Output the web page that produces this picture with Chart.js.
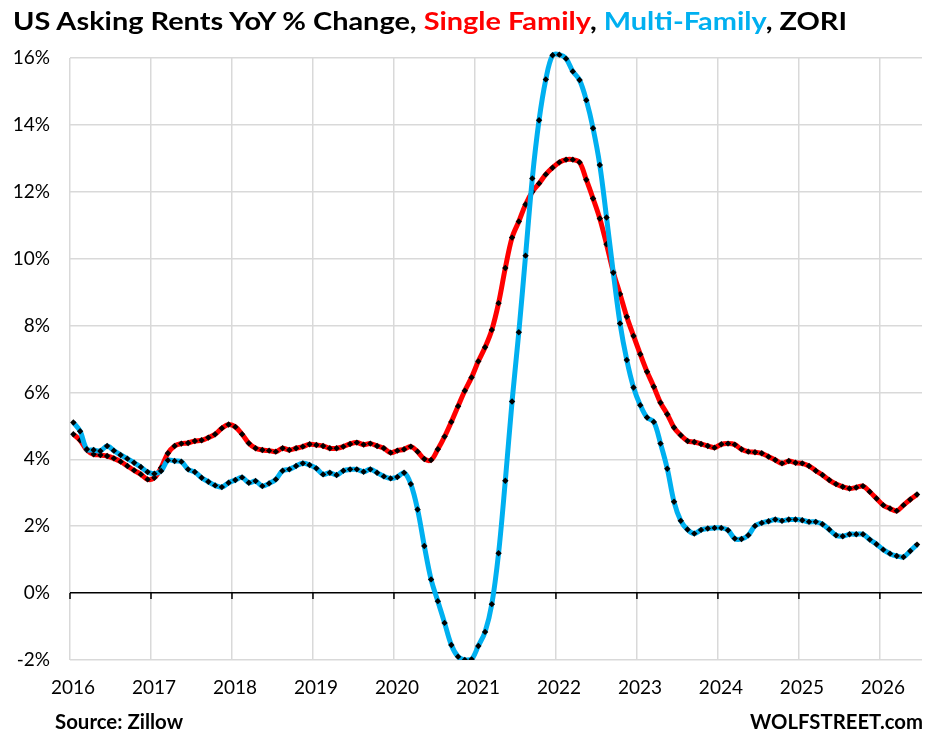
<!DOCTYPE html>
<html>
<head>
<meta charset="utf-8">
<script src="https://cdn.jsdelivr.net/npm/chart.js@4.4.1/dist/chart.umd.min.js"></script>
<style>
  html, body { margin: 0; padding: 0; background: #fff; }
  #wrap { position: relative; width: 930px; height: 736px; overflow: hidden; font-family: Lato, "Open Sans", sans-serif; }
  #chart { position: absolute; left: 0; top: 0; }
  .txt { position: absolute; white-space: nowrap; font-weight: bold; color: #000; line-height: 1; transform-origin: 0 0; }
  #title { left: 13px; top: 8px; font-size: 25px; }
  #source { left: 55px; top: 711px; font-size: 20px; }
  #brand { left: 750px; top: 711px; font-size: 20px; }
  .sf { color: #ff0000; }
  .mf { color: #00b0f0; }
</style>
</head>
<body>
<div id="wrap">
  <canvas id="chart" width="930" height="736"></canvas>
  <div id="title" class="txt">US Asking Rents YoY % Change, <span class="sf">Single Family</span>, <span class="mf">Multi-Family</span>, ZORI</div>
  <div id="source" class="txt">Source: Zillow</div>
  <div id="brand" class="txt">WOLFSTREET.com</div>
</div>
<script>
// Monate Jan 2016 .. Jun 2026
const months = [];
for (let y = 2016; y <= 2026; y++) {
  for (let m = 1; m <= 12; m++) {
    if (y === 2026 && m > 6) break;
    months.push(y + "-" + String(m).padStart(2, "0"));
  }
}

const yearTicks = [2016, 2017, 2018, 2019, 2020, 2021, 2022, 2023, 2024, 2025, 2026];

// YoY % change, single family (red)
const singleFamily = [
  4.75, 4.57, 4.28, 4.15, 4.13, 4.10, 4.03, 3.93, 3.80, 3.67, 3.55, 3.40,
  3.45, 3.75, 4.18, 4.40, 4.47, 4.49, 4.55, 4.57, 4.65, 4.75, 4.93, 5.04,
  4.97, 4.75, 4.48, 4.33, 4.28, 4.26, 4.23, 4.33, 4.28, 4.33, 4.38, 4.45,
  4.43, 4.40, 4.33, 4.33, 4.38, 4.46, 4.50, 4.44, 4.47, 4.40, 4.33, 4.20,
  4.26, 4.30, 4.38, 4.23, 4.01, 3.98, 4.30, 4.68, 5.12, 5.59, 6.05, 6.45,
  6.93, 7.35, 7.87, 8.67, 9.72, 10.63, 11.11, 11.62, 12.00, 12.25, 12.52, 12.72,
  12.88, 12.96, 12.96, 12.88, 12.36, 11.80, 11.20, 10.43, 9.60, 8.94, 8.26, 7.69,
  7.14, 6.62, 6.17, 5.69, 5.35, 4.95, 4.72, 4.55, 4.52, 4.46, 4.40, 4.35,
  4.45, 4.47, 4.44, 4.30, 4.23, 4.21, 4.18, 4.08, 3.98, 3.88, 3.95, 3.90,
  3.88, 3.80, 3.66, 3.53, 3.38, 3.26, 3.18, 3.13, 3.16, 3.20, 3.03, 2.83,
  2.63, 2.53, 2.46, 2.63, 2.80, 2.95
];

// YoY % change, multi-family (blue)
const multiFamily = [
  5.10, 4.84, 4.30, 4.28, 4.25, 4.40, 4.26, 4.13, 4.02, 3.90, 3.77, 3.62,
  3.57, 3.65, 3.97, 3.95, 3.93, 3.70, 3.62, 3.45, 3.33, 3.22, 3.17, 3.30,
  3.38, 3.46, 3.30, 3.35, 3.20, 3.28, 3.40, 3.66, 3.70, 3.80, 3.88, 3.83,
  3.73, 3.55, 3.60, 3.53, 3.66, 3.70, 3.70, 3.63, 3.70, 3.60, 3.49, 3.43,
  3.47, 3.60, 3.26, 2.50, 1.41, 0.41, -0.24, -0.89, -1.55, -1.90, -2.00, -1.98,
  -1.58, -1.16, -0.33, 1.19, 3.36, 5.73, 7.80, 10.09, 12.40, 14.14, 15.36, 16.08,
  16.10, 15.98, 15.60, 15.34, 14.74, 13.90, 12.80, 11.23, 9.58, 8.06, 6.97, 6.15,
  5.62, 5.25, 5.12, 4.47, 3.72, 2.73, 2.16, 1.90, 1.78, 1.89, 1.93, 1.95,
  1.95, 1.88, 1.63, 1.62, 1.73, 2.01, 2.10, 2.15, 2.20, 2.16, 2.20, 2.20,
  2.18, 2.13, 2.13, 2.06, 1.90, 1.73, 1.70, 1.76, 1.76, 1.76, 1.60, 1.46,
  1.30, 1.18, 1.11, 1.08, 1.26, 1.45
];

// Monat in der Mitte des Monats auf die Jahresachse legen
const toX = (s) => { const [y, m] = s.split("-").map(Number); return y + (m - 0.5) / 12; };
const points = (vals) => months.map((d, i) => ({ x: toX(d), y: vals[i] }));

const tickFont = { family: "Lato, 'Open Sans', sans-serif", size: 19 };
const GRID = "#d9d9d9";

// kleine Striche unter der Nulllinie, wie in Excel
const zeroTicks = {
  id: "zeroTicks",
  beforeDatasetsDraw(chart) {
    const { ctx, scales: { x, y } } = chart;
    const y0 = y.getPixelForValue(0);
    ctx.save();
    ctx.strokeStyle = "#000";
    ctx.lineWidth = 1.5;
    yearTicks.forEach(v => {
      const px = x.getPixelForValue(v);
      ctx.beginPath(); ctx.moveTo(px, y0); ctx.lineTo(px, y0 + 6); ctx.stroke();
    });
    ctx.restore();
  }
};

const lineStyle = (color, order) => ({
  borderColor: color, backgroundColor: color, borderWidth: 5,
  tension: 0.35, order,
  pointStyle: "rectRot", pointRadius: 3.2, pointBorderWidth: 0,
  pointBackgroundColor: "#000", pointBorderColor: "#000",
  clip: { left: 10, right: 10, top: 14, bottom: 0 },
});

new Chart(document.getElementById("chart"), {
  type: "line",
  data: {
    datasets: [
      { label: "Multi-Family", data: points(multiFamily), ...lineStyle("#00b0f0", 0) },
      { label: "Single Family", data: points(singleFamily), ...lineStyle("#ff0000", 1) },
    ]
  },
  options: {
    responsive: false, animation: false,
    layout: { padding: { top: 58, right: 8, left: 0, bottom: 0 } },
    plugins: { legend: { display: false }, tooltip: { enabled: false } },
    scales: {
      x: {
        type: "linear", min: 2016, max: 2026.52,
        afterBuildTicks: (s) => { s.ticks = yearTicks.map(v => ({ value: v })); },
        afterFit: (s) => { s.height = 76; },
        ticks: { callback: (v) => String(v), font: tickFont, color: "#000", padding: 16,
                 labelOffset: 3, maxRotation: 0, autoSkip: false },
        grid: { color: GRID, lineWidth: 1.5, drawTicks: false },
        border: { display: false },
      },
      y: {
        min: -2, max: 16,
        afterFit: (s) => { s.width = 70; },
        ticks: { stepSize: 2, callback: (v) => v + "%", font: tickFont, color: "#000", padding: 20 },
        grid: {
          color: (c) => c.tick && c.tick.value === 0 ? "#000" : GRID,
          lineWidth: 1.5, drawTicks: false,
        },
        border: { display: false },
      }
    }
  },
  plugins: [zeroTicks]
});

// Texte auf die Breite der Vorlage bringen
function fitWidth(id, w) {
  const el = document.getElementById(id);
  el.style.transform = "none";
  el.style.transform = "scaleX(" + (w / el.getBoundingClientRect().width) + ")";
}
function fitAll() {
  fitWidth("title", 834);
  fitWidth("source", 128);
  fitWidth("brand", 173);
}
fitAll();
if (document.fonts) document.fonts.ready.then(fitAll);
</script>
</body>
</html>
